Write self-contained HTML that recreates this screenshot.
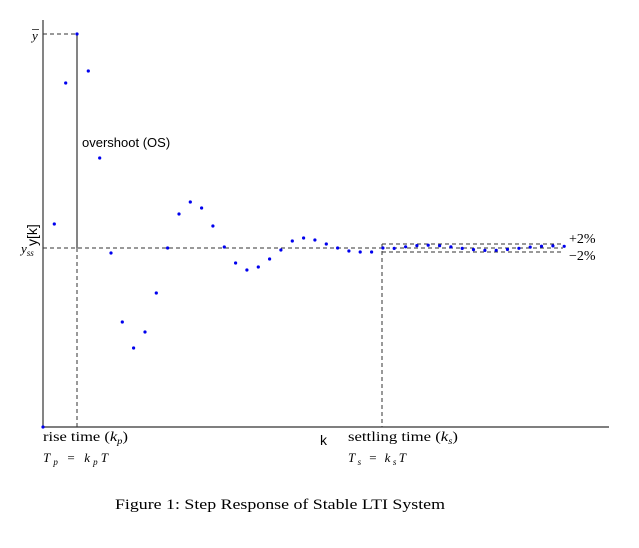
<!DOCTYPE html><html><head><style>body{margin:0;background:#fff}svg text{font-family:"Liberation Serif",serif}</style></head><body>
<svg width="639" height="543" xmlns="http://www.w3.org/2000/svg">
<line x1="43" y1="20" x2="43" y2="427" stroke="#333" stroke-width="1.2"/>
<line x1="43" y1="427" x2="609" y2="427" stroke="#333" stroke-width="1.2"/>
<g stroke="#333" stroke-width="1" stroke-dasharray="4,3" fill="none">
<line x1="43" y1="34" x2="77" y2="34"/>
<line x1="77" y1="248" x2="77" y2="427"/>
<line x1="43" y1="248" x2="563" y2="248"/>
<line x1="382" y1="244" x2="563" y2="244"/>
<line x1="382" y1="252" x2="563" y2="252"/>
<line x1="382" y1="244" x2="382" y2="427"/>
</g>
<line x1="77" y1="34" x2="77" y2="248" stroke="#333" stroke-width="1.2"/>
<g fill="#0000ee" id="pts"></g>
<line x1="32" y1="29.5" x2="39" y2="29.5" stroke="#222" stroke-width="0.8"/>
<text x="32" y="40" font-size="13" font-style="italic">y</text>
<text x="21" y="253" font-size="13" font-style="italic">y<tspan font-size="9" dy="3">ss</tspan></text>
<text transform="translate(37,246) rotate(-90)" font-size="14" style="font-family:'Liberation Sans',sans-serif">y[k]</text>
<text x="82" y="147" font-size="13" style="font-family:'Liberation Sans',sans-serif">overshoot (OS)</text>
<text x="569" y="243" font-size="14">+2%</text>
<text x="569" y="260" font-size="14">−2%</text>
<text x="43" y="441" font-size="14" textLength="85" lengthAdjust="spacingAndGlyphs">rise time (<tspan font-style="italic">k<tspan font-size="9" dy="3">p</tspan></tspan><tspan dy="-3">)</tspan></text>
<text x="43" y="462" font-size="13" font-style="italic" textLength="65" lengthAdjust="spacing">T<tspan font-size="9" dy="3">p</tspan><tspan dy="-3" font-style="normal"> = </tspan>k<tspan font-size="9" dy="3">p</tspan><tspan dy="-3">T</tspan></text>
<text x="320" y="445" font-size="14" style="font-family:'Liberation Sans',sans-serif">k</text>
<text x="348" y="441" font-size="14" textLength="110" lengthAdjust="spacingAndGlyphs">settling time (<tspan font-style="italic">k<tspan font-size="9" dy="3">s</tspan></tspan><tspan dy="-3">)</tspan></text>
<text x="348" y="462" font-size="13" font-style="italic" textLength="58" lengthAdjust="spacing">T<tspan font-size="9" dy="3">s</tspan><tspan dy="-3" font-style="normal"> = </tspan>k<tspan font-size="9" dy="3">s</tspan><tspan dy="-3">T</tspan></text>
<text x="115" y="509" font-size="15" textLength="330" lengthAdjust="spacingAndGlyphs">Figure 1: Step Response of Stable LTI System</text>
</svg>
<script>
var ys=[427,224,83,34,71,158,253,322,348,332,293,248,214,202,208,226,247,263,270,267,259,250,241,238,240,244,248,251,252,252,248];
for(var k=31;k<=46;k++){ys.push(248-3*Math.cos((k-23)*Math.PI/5.5)*Math.exp(-(k-31)/40));}
var g=document.getElementById('pts'),s='';
for(var k=0;k<ys.length;k++){s+='<circle cx="'+(43+k*11.33).toFixed(1)+'" cy="'+ys[k].toFixed(1)+'" r="1.6"/>';}
g.innerHTML=s;
</script>
</body></html>
